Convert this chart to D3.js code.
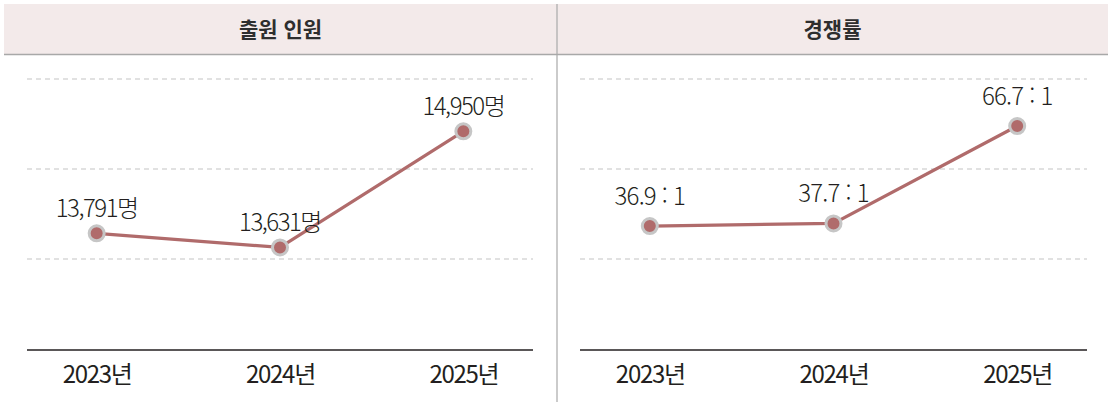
<!DOCTYPE html>
<html lang="ko">
<head>
<meta charset="utf-8">
<script src="https://cdn.jsdelivr.net/npm/d3@7"></script>
<style>
  body { margin: 0; background: #fff; }
  svg { display: block; font-family: "Noto Sans CJK KR", "Noto Sans", sans-serif; }
</style>
</head>
<body>
<div id="chart"></div>
<script>
const years = ["2023년", "2024년", "2025년"];
const applicants = [13791, 13631, 14950];
const applicantLabels = ["13,791명", "13,631명", "14,950명"];
const ratios = [36.9, 37.7, 66.7];
const ratioLabels = ["36.9 : 1", "37.7 : 1", "66.7 : 1"];
const titles = ["출원 인원", "경쟁률"];

const width = 1110, height = 403;
const svg = d3.select("#chart").append("svg")
  .attr("width", width).attr("height", height);

// header bands
svg.append("rect").attr("x", 4).attr("y", 4).attr("width", 1104).attr("height", 50).attr("fill", "#f3eaea");
svg.append("line").attr("x1", 4).attr("x2", 1108).attr("y1", 54.5).attr("y2", 54.5)
  .attr("stroke", "#a8a8a8").attr("stroke-width", 1.3);
svg.append("line").attr("x1", 557).attr("x2", 557).attr("y1", 4).attr("y2", 402)
  .attr("stroke", "#a8a8a8").attr("stroke-width", 1.2);

const panels = [
  { title: titles[0], x0: 4, x1: 557, left: 27, right: 533, values: applicants, labels: applicantLabels, domain: [12465, 15545], off: 16, ls: "-1.5px" },
  { title: titles[1], x0: 557, x1: 1108, left: 580, right: 1087, values: ratios, labels: ratioLabels, domain: [0, 80.7], off: 21, ls: "-0.8px" }
];

panels.forEach(p => {
  const g = svg.append("g");

  g.append("text")
    .attr("x", (p.x0 + p.x1) / 2).attr("y", 37)
    .attr("text-anchor", "middle")
    .attr("font-size", 21).attr("font-weight", "bold")
    .attr("fill", "#2e2e2e")
    .text(p.title);

  const x = d3.scalePoint().domain(years).range([p.left, p.right]).padding(0.38);
  const y = d3.scaleLinear().domain(p.domain).range([350, 79]);

  // dashed gridlines
  const gridY = [79, 169, 259];
  g.selectAll(".grid").data(gridY).enter().append("line")
    .attr("x1", p.left).attr("x2", p.right)
    .attr("y1", d => d).attr("y2", d => d)
    .attr("stroke", "#c4c4c4").attr("stroke-width", 1.2)
    .attr("stroke-dasharray", "5,4");

  // x axis
  const axis = g.append("g").attr("transform", "translate(0,350)")
    .call(d3.axisBottom(x).tickSize(0).tickPadding(0));
  axis.select(".domain").attr("stroke", "#231f20").attr("stroke-width", 1.4)
    .attr("d", `M${p.left},0H${p.right}`);
  axis.selectAll("text")
    .attr("font-size", 24).attr("font-family", "\"Noto Sans CJK KR\", sans-serif")
    .attr("fill", "#231f20").attr("letter-spacing", "-1.3px")
    .attr("y", 33).attr("dy", 0);

  const pts = years.map((yr, i) => ({ yr, v: p.values[i], label: p.labels[i] }));

  g.append("path").datum(pts)
    .attr("fill", "none").attr("stroke", "#b06b6b").attr("stroke-width", 3.2)
    .attr("d", d3.line().x(d => x(d.yr)).y(d => y(d.v)));

  g.selectAll(".pt").data(pts).enter().append("circle")
    .attr("cx", d => x(d.yr)).attr("cy", d => y(d.v))
    .attr("r", 7.5)
    .attr("fill", "#b06b6b").attr("stroke", "#c6c6c6").attr("stroke-width", 3);

  g.selectAll(".lbl").data(pts).enter().append("text")
    .attr("x", d => x(d.yr)).attr("y", d => y(d.v) - p.off)
    .attr("text-anchor", "middle")
    .attr("font-size", 24).attr("font-weight", 300).attr("letter-spacing", p.ls)
    .attr("fill", "#231f20")
    .style("white-space", "pre")
    .text(d => d.label);
});
</script>
</body>
</html>
